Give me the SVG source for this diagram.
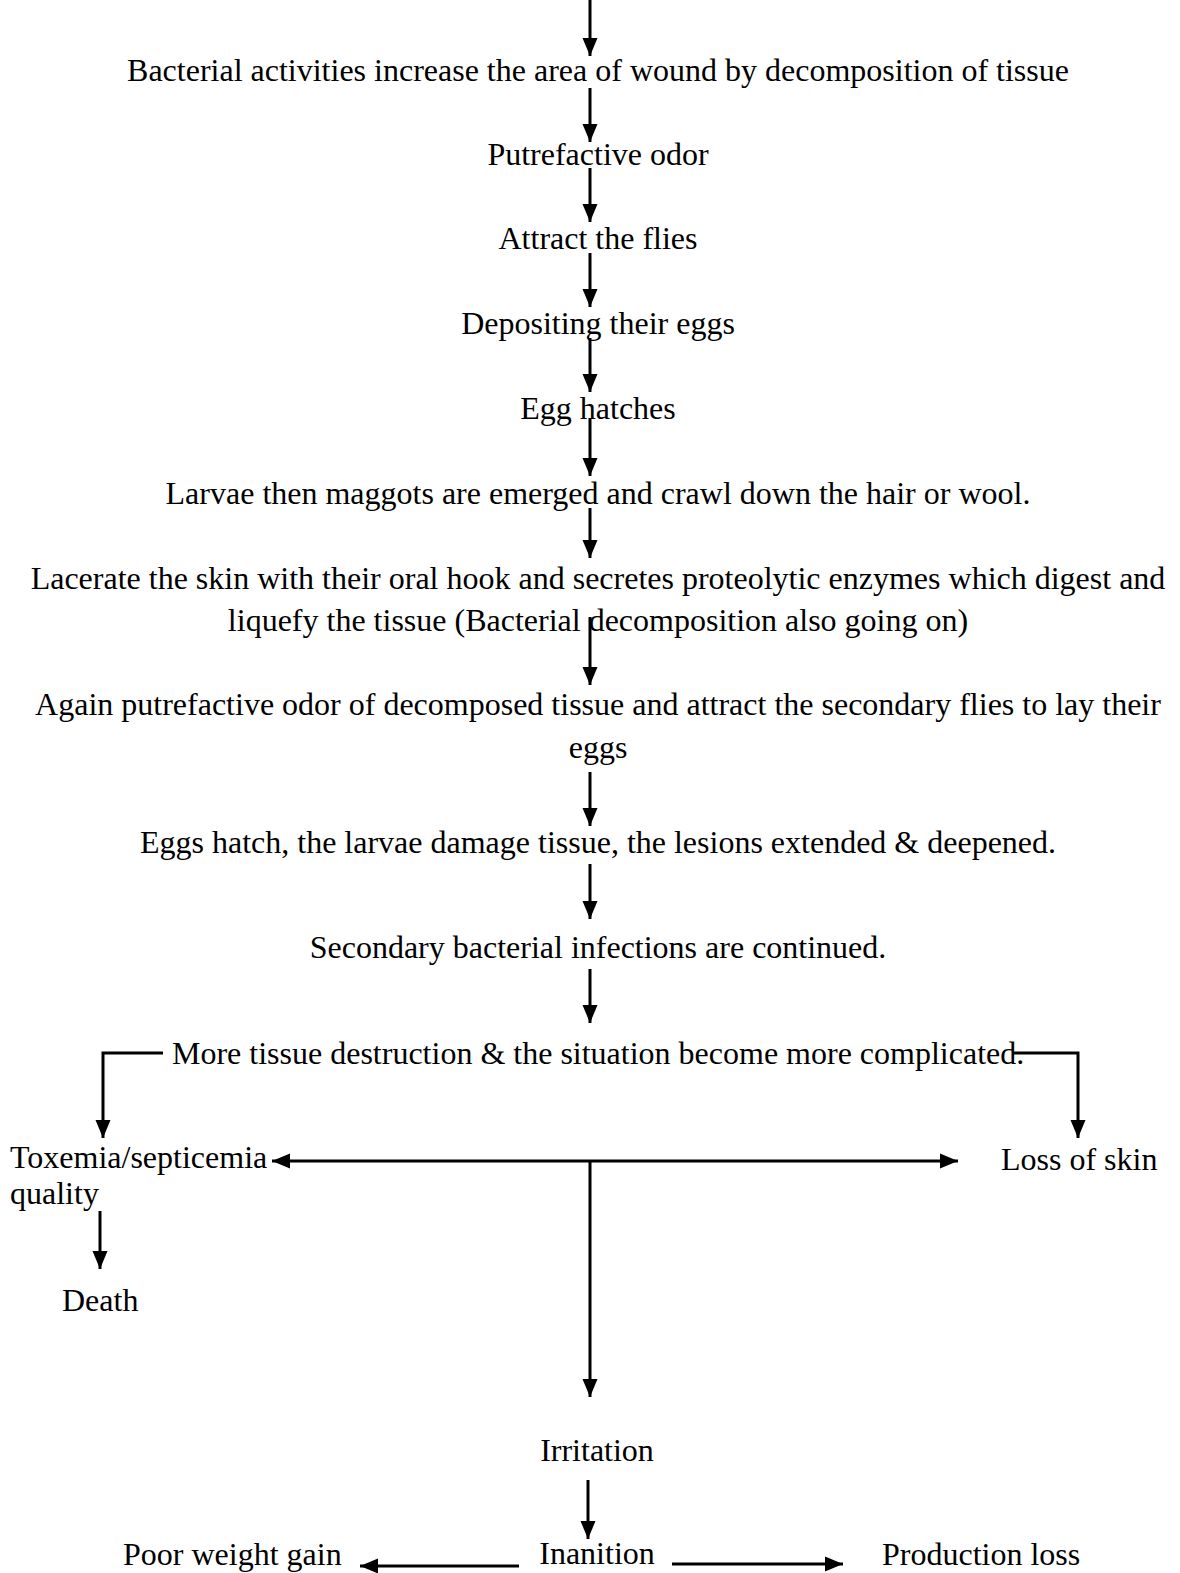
<svg xmlns="http://www.w3.org/2000/svg" width="1180" height="1573" viewBox="0 0 1180 1573">
<style>
text{font-family:"Liberation Serif","Times New Roman",serif;font-size:32px;fill:#000}
.c{text-anchor:middle}
.ln{stroke:#000;stroke-width:3;fill:none}
</style>
<defs>
<marker id="ah" markerUnits="userSpaceOnUse" markerWidth="18" markerHeight="16" refX="18" refY="8" orient="auto-start-reverse" viewBox="0 0 18 16">
<path d="M0,0.5 L18,8 L0,15.5 Z" fill="#000"/>
</marker>
</defs>
<rect width="1180" height="1573" fill="#fff"/>
<g id="connectors">
<line class="ln" x1="590" y1="0" x2="590" y2="56" marker-end="url(#ah)"/>
<line class="ln" x1="590" y1="88" x2="590" y2="142" marker-end="url(#ah)"/>
<line class="ln" x1="590" y1="168" x2="590" y2="222" marker-end="url(#ah)"/>
<line class="ln" x1="590" y1="253" x2="590" y2="307" marker-end="url(#ah)"/>
<line class="ln" x1="590" y1="338" x2="590" y2="392" marker-end="url(#ah)"/>
<line class="ln" x1="590" y1="418" x2="590" y2="476" marker-end="url(#ah)"/>
<line class="ln" x1="590" y1="508" x2="590" y2="558" marker-end="url(#ah)"/>
<line class="ln" x1="590" y1="617" x2="590" y2="685" marker-end="url(#ah)"/>
<line class="ln" x1="590" y1="772" x2="590" y2="826" marker-end="url(#ah)"/>
<line class="ln" x1="590" y1="864" x2="590" y2="919" marker-end="url(#ah)"/>
<line class="ln" x1="590" y1="969" x2="590" y2="1023" marker-end="url(#ah)"/>
<polyline class="ln" points="163,1053 103,1053 103,1138" marker-end="url(#ah)"/>
<polyline class="ln" points="1012,1053 1078,1053 1078,1138" marker-end="url(#ah)"/>
<line class="ln" x1="272" y1="1161" x2="958" y2="1161" marker-start="url(#ah)" marker-end="url(#ah)"/>
<line class="ln" x1="590" y1="1161" x2="590" y2="1397" marker-end="url(#ah)"/>
<line class="ln" x1="100" y1="1211" x2="100" y2="1269" marker-end="url(#ah)"/>
<line class="ln" x1="588" y1="1480" x2="588" y2="1539" marker-end="url(#ah)"/>
<line class="ln" x1="519" y1="1566" x2="360" y2="1566" marker-end="url(#ah)"/>
<line class="ln" x1="672" y1="1564" x2="843" y2="1564" marker-end="url(#ah)"/>
</g>
<g id="n1"><text class="c" x="598" y="81">Bacterial activities increase the area of wound by decomposition of tissue</text></g>
<g id="n2"><text class="c" x="598" y="165">Putrefactive odor</text></g>
<g id="n3"><text class="c" x="598" y="249">Attract the flies</text></g>
<g id="n4"><text class="c" x="598" y="334">Depositing their eggs</text></g>
<g id="n5"><text class="c" x="598" y="419">Egg hatches</text></g>
<g id="n6"><text class="c" x="598" y="504">Larvae then maggots are emerged and crawl down the hair or wool.</text></g>
<g id="n7"><text class="c" x="598" y="589">Lacerate the skin with their oral hook and secretes proteolytic enzymes which digest and</text><text class="c" x="598" y="631">liquefy the tissue (Bacterial decomposition also going on)</text></g>
<g id="n8"><text class="c" x="598" y="715">Again putrefactive odor of decomposed tissue and attract the secondary flies to lay their</text><text class="c" x="598" y="758">eggs</text></g>
<g id="n9"><text class="c" x="598" y="853">Eggs hatch, the larvae damage tissue, the lesions extended &amp; deepened.</text></g>
<g id="n10"><text class="c" x="598" y="958">Secondary bacterial infections are continued.</text></g>
<g id="n11"><text x="172" y="1064">More tissue destruction &amp; the situation become more complicated.</text></g>
<g id="n12"><text x="10" y="1168">Toxemia/septicemia</text><text x="10" y="1204">quality</text></g>
<g id="n13"><text x="1001" y="1170">Loss of skin</text></g>
<g id="n14"><text x="62" y="1311">Death</text></g>
<g id="n15"><text class="c" x="597" y="1461">Irritation</text></g>
<g id="n16"><text class="c" x="597" y="1564">Inanition</text></g>
<g id="n17"><text x="123" y="1565">Poor weight gain</text></g>
<g id="n18"><text x="882" y="1565">Production loss</text></g>
</svg>
